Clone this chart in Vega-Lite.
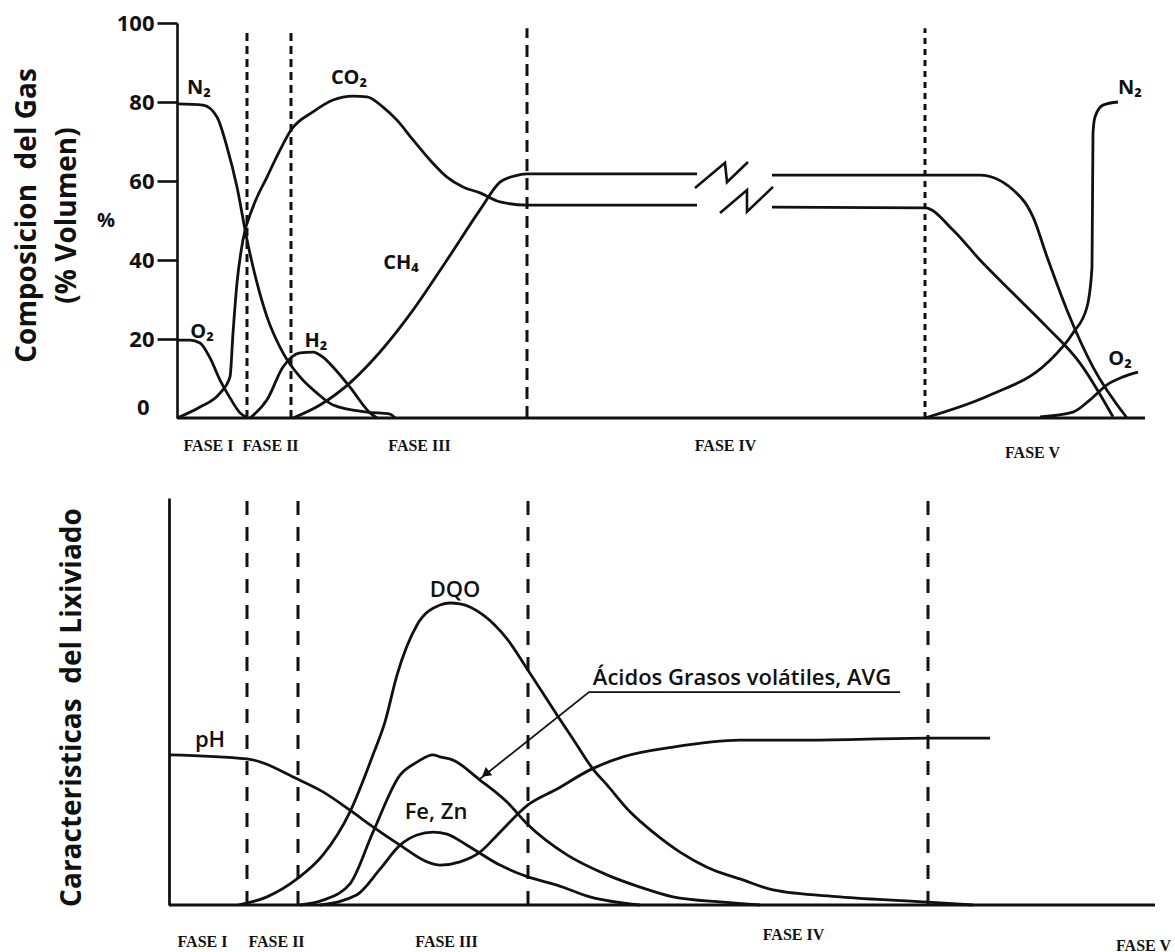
{
  "$schema": "https://vega.github.io/schema/vega-lite/v6.json",
  "background": "white",
  "padding": {"left": 13, "top": 12, "right": 0, "bottom": 0},
  "spacing": 32,
  "config": {"view": {"stroke": null}, "axis": {"grid": false}},
  "datasets": {
    "gas": [
      {"s": "N2a", "t": 8, "v": 79.5}, {"s": "N2a", "t": 34, "v": 79.2}, {"s": "N2a", "t": 48, "v": 76.2}, {"s": "N2a", "t": 58, "v": 68.6}, {"s": "N2a", "t": 68, "v": 58.5}, {"s": "N2a", "t": 78, "v": 45.1}, {"s": "N2a", "t": 88, "v": 34.2}, {"s": "N2a", "t": 98, "v": 25.6}, {"s": "N2a", "t": 114, "v": 16.5}, {"s": "N2a", "t": 131, "v": 10.4}, {"s": "N2a", "t": 148, "v": 6.3}, {"s": "N2a", "t": 164, "v": 3.3}, {"s": "N2a", "t": 198, "v": 1.5}, {"s": "N2a", "t": 221, "v": 1.0}, {"s": "N2a", "t": 226, "v": 0},
      {"s": "O2a", "t": 8, "v": 19.7}, {"s": "O2a", "t": 21, "v": 19.7}, {"s": "O2a", "t": 31, "v": 19.0}, {"s": "O2a", "t": 41, "v": 15.2}, {"s": "O2a", "t": 51, "v": 9.6}, {"s": "O2a", "t": 61, "v": 5.1}, {"s": "O2a", "t": 71, "v": 1.3}, {"s": "O2a", "t": 79, "v": 0},
      {"s": "CO2a", "t": 8, "v": 0}, {"s": "CO2a", "t": 31, "v": 2.8}, {"s": "CO2a", "t": 51, "v": 6.3}, {"s": "CO2a", "t": 61, "v": 10.4}, {"s": "CO2a", "t": 64, "v": 21.5}, {"s": "CO2a", "t": 68, "v": 34.2}, {"s": "CO2a", "t": 74, "v": 45.1}, {"s": "CO2a", "t": 84, "v": 53.4}, {"s": "CO2a", "t": 98, "v": 61.0}, {"s": "CO2a", "t": 111, "v": 67.8}, {"s": "CO2a", "t": 122, "v": 72.9}, {"s": "CO2a", "t": 144, "v": 77.5}, {"s": "CO2a", "t": 164, "v": 80.5}, {"s": "CO2a", "t": 184, "v": 81.5}, {"s": "CO2a", "t": 198, "v": 81.3}, {"s": "CO2a", "t": 214, "v": 78.7}, {"s": "CO2a", "t": 228, "v": 75.4}, {"s": "CO2a", "t": 244, "v": 70.4}, {"s": "CO2a", "t": 261, "v": 65.3}, {"s": "CO2a", "t": 278, "v": 61.0}, {"s": "CO2a", "t": 294, "v": 58.5}, {"s": "CO2a", "t": 311, "v": 57.0}, {"s": "CO2a", "t": 331, "v": 54.7}, {"s": "CO2a", "t": 358, "v": 53.9}, {"s": "CO2a", "t": 528, "v": 53.9},
      {"s": "CO2b", "t": 603, "v": 53.4}, {"s": "CO2b", "t": 756, "v": 53.2}, {"s": "CO2b", "t": 784, "v": 47.6}, {"s": "CO2b", "t": 811, "v": 40.0}, {"s": "CO2b", "t": 844, "v": 31.6}, {"s": "CO2b", "t": 878, "v": 23.0}, {"s": "CO2b", "t": 911, "v": 13.9}, {"s": "CO2b", "t": 944, "v": 0.3},
      {"s": "CH4a", "t": 124, "v": 0}, {"s": "CH4a", "t": 151, "v": 3.3}, {"s": "CH4a", "t": 181, "v": 8.9}, {"s": "CH4a", "t": 211, "v": 16.7}, {"s": "CH4a", "t": 244, "v": 27.3}, {"s": "CH4a", "t": 278, "v": 40.0}, {"s": "CH4a", "t": 311, "v": 52.7}, {"s": "CH4a", "t": 331, "v": 59.7}, {"s": "CH4a", "t": 346, "v": 61.3}, {"s": "CH4a", "t": 358, "v": 61.8}, {"s": "CH4a", "t": 528, "v": 61.8},
      {"s": "CH4b", "t": 603, "v": 61.5}, {"s": "CH4b", "t": 811, "v": 61.5}, {"s": "CH4b", "t": 854, "v": 55.2}, {"s": "CH4b", "t": 864, "v": 50.9}, {"s": "CH4b", "t": 878, "v": 40.8}, {"s": "CH4b", "t": 898, "v": 27.3}, {"s": "CH4b", "t": 924, "v": 12.9}, {"s": "CH4b", "t": 958, "v": 0},
      {"s": "N2b", "t": 756, "v": 0}, {"s": "N2b", "t": 821, "v": 5.8}, {"s": "N2b", "t": 878, "v": 13.9}, {"s": "N2b", "t": 904, "v": 21.5}, {"s": "N2b", "t": 918, "v": 28.1}, {"s": "N2b", "t": 923, "v": 38.2}, {"s": "N2b", "t": 924, "v": 72.2}, {"s": "N2b", "t": 926, "v": 76.2}, {"s": "N2b", "t": 934, "v": 79.2}, {"s": "N2b", "t": 949, "v": 80.0},
      {"s": "O2b", "t": 871, "v": 0.3}, {"s": "O2b", "t": 904, "v": 1.5}, {"s": "O2b", "t": 921, "v": 4.6}, {"s": "O2b", "t": 938, "v": 8.4}, {"s": "O2b", "t": 954, "v": 10.4}, {"s": "O2b", "t": 969, "v": 11.6},
      {"s": "H2", "t": 81, "v": 0}, {"s": "H2", "t": 98, "v": 4.6}, {"s": "H2", "t": 114, "v": 12.9}, {"s": "H2", "t": 131, "v": 16.5}, {"s": "H2", "t": 144, "v": 16.7}, {"s": "H2", "t": 154, "v": 15.4}, {"s": "H2", "t": 164, "v": 12.9}, {"s": "H2", "t": 181, "v": 7.8}, {"s": "H2", "t": 201, "v": 1.3}, {"s": "H2", "t": 208, "v": 0}
    ],
    "gasBreak": [
      {"s": "z1", "i": 1, "t": 526, "v": 58.2}, {"s": "z1", "i": 2, "t": 556, "v": 64.6}, {"s": "z1", "i": 3, "t": 558, "v": 59.7}, {"s": "z1", "i": 4, "t": 579, "v": 64.8},
      {"s": "z2", "i": 1, "t": 551, "v": 51.9}, {"s": "z2", "i": 2, "t": 578, "v": 57.7}, {"s": "z2", "i": 3, "t": 578, "v": 52.2}, {"s": "z2", "i": 4, "t": 604, "v": 58.5}
    ],
    "gasLabels": [
      {"label": "N₂", "t": 30, "v": 83.5}, {"label": "CO₂", "t": 180, "v": 86.1}, {"label": "O₂", "t": 33, "v": 21.8}, {"label": "H₂", "t": 147, "v": 19.5}, {"label": "CH₄", "t": 232, "v": 39.2}, {"label": "N₂", "t": 961, "v": 83.5}, {"label": "O₂", "t": 951, "v": 14.9}
    ],
    "lix": [
      {"s": "pH", "t": 0, "v": 36.9}, {"s": "pH", "t": 78, "v": 35.9}, {"s": "pH", "t": 128, "v": 31.0}, {"s": "pH", "t": 154, "v": 27.8}, {"s": "pH", "t": 181, "v": 23.3}, {"s": "pH", "t": 204, "v": 19.2}, {"s": "pH", "t": 231, "v": 14.7}, {"s": "pH", "t": 258, "v": 10.6}, {"s": "pH", "t": 271, "v": 9.8}, {"s": "pH", "t": 291, "v": 10.6}, {"s": "pH", "t": 311, "v": 13.0}, {"s": "pH", "t": 331, "v": 17.9}, {"s": "pH", "t": 359, "v": 24.6}, {"s": "pH", "t": 388, "v": 28.5}, {"s": "pH", "t": 421, "v": 33.2}, {"s": "pH", "t": 454, "v": 36.4}, {"s": "pH", "t": 504, "v": 38.8}, {"s": "pH", "t": 571, "v": 40.5}, {"s": "pH", "t": 638, "v": 40.5}, {"s": "pH", "t": 759, "v": 41.0}, {"s": "pH", "t": 821, "v": 41.0},
      {"s": "DQO", "t": 69, "v": 0}, {"s": "DQO", "t": 98, "v": 2.0}, {"s": "DQO", "t": 128, "v": 6.4}, {"s": "DQO", "t": 154, "v": 12.3}, {"s": "DQO", "t": 181, "v": 22.9}, {"s": "DQO", "t": 204, "v": 36.9}, {"s": "DQO", "t": 216, "v": 45.0}, {"s": "DQO", "t": 228, "v": 56.5}, {"s": "DQO", "t": 248, "v": 68.8}, {"s": "DQO", "t": 271, "v": 73.7}, {"s": "DQO", "t": 281, "v": 74.2}, {"s": "DQO", "t": 291, "v": 74.0}, {"s": "DQO", "t": 314, "v": 71.3}, {"s": "DQO", "t": 338, "v": 65.4}, {"s": "DQO", "t": 359, "v": 57.7}, {"s": "DQO", "t": 388, "v": 46.7}, {"s": "DQO", "t": 404, "v": 40.8}, {"s": "DQO", "t": 424, "v": 33.4}, {"s": "DQO", "t": 438, "v": 29.5}, {"s": "DQO", "t": 461, "v": 22.9}, {"s": "DQO", "t": 484, "v": 17.9}, {"s": "DQO", "t": 511, "v": 13.0}, {"s": "DQO", "t": 538, "v": 9.3}, {"s": "DQO", "t": 558, "v": 7.4}, {"s": "DQO", "t": 571, "v": 6.4}, {"s": "DQO", "t": 604, "v": 3.7}, {"s": "DQO", "t": 671, "v": 2.0}, {"s": "DQO", "t": 759, "v": 0.7}, {"s": "DQO", "t": 804, "v": 0},
      {"s": "AVG", "t": 131, "v": 0}, {"s": "AVG", "t": 154, "v": 1.2}, {"s": "AVG", "t": 181, "v": 5.2}, {"s": "AVG", "t": 204, "v": 17.9}, {"s": "AVG", "t": 231, "v": 31.9}, {"s": "AVG", "t": 248, "v": 35.1}, {"s": "AVG", "t": 264, "v": 36.9}, {"s": "AVG", "t": 271, "v": 36.4}, {"s": "AVG", "t": 284, "v": 35.6}, {"s": "AVG", "t": 311, "v": 30.7}, {"s": "AVG", "t": 338, "v": 25.3}, {"s": "AVG", "t": 359, "v": 19.7}, {"s": "AVG", "t": 398, "v": 12.3}, {"s": "AVG", "t": 438, "v": 7.4}, {"s": "AVG", "t": 471, "v": 4.4}, {"s": "AVG", "t": 504, "v": 2.0}, {"s": "AVG", "t": 554, "v": 0.7}, {"s": "AVG", "t": 591, "v": 0},
      {"s": "FeZn", "t": 151, "v": 0}, {"s": "FeZn", "t": 188, "v": 2.5}, {"s": "FeZn", "t": 211, "v": 8.8}, {"s": "FeZn", "t": 231, "v": 14.7}, {"s": "FeZn", "t": 248, "v": 17.2}, {"s": "FeZn", "t": 264, "v": 17.9}, {"s": "FeZn", "t": 278, "v": 17.4}, {"s": "FeZn", "t": 298, "v": 14.7}, {"s": "FeZn", "t": 331, "v": 9.8}, {"s": "FeZn", "t": 359, "v": 6.9}, {"s": "FeZn", "t": 388, "v": 4.9}, {"s": "FeZn", "t": 421, "v": 2.0}, {"s": "FeZn", "t": 471, "v": 0}
    ],
    "lixLabels": [
      {"label": "pH", "t": 41, "v": 40.5}, {"label": "DQO", "t": 286, "v": 77.4}, {"label": "Fe, Zn", "t": 267, "v": 22.9}, {"label": "Ácidos Grasos volátiles, AVG", "t": 573, "v": 55.8}
    ],
    "arrow": [
      {"i": 1, "t": 731, "v": 52.3}, {"i": 2, "t": 420, "v": 52.3}, {"i": 3, "t": 311, "v": 31.0}
    ]
  },
  "vconcat": [
    {
      "width": 990,
      "height": 395,
      "encoding": {
        "x": {"field": "t", "type": "quantitative", "scale": {"domain": [0, 990], "nice": false, "zero": false},
          "axis": {"values": [39, 101, 250, 556, 863],
            "labelExpr": "datum.value == 39 ? 'FASE I' : datum.value == 101 ? 'FASE II' : datum.value == 250 ? 'FASE III' : datum.value == 556 ? 'FASE IV' : 'FASE V'",
            "ticks": false, "tickSize": 0, "domain": false, "grid": false,
            "labelFont": "Liberation Serif", "labelFontWeight": "bold", "labelFontSize": 16, "labelColor": "#111",
            "labelBaseline": "middle", "labelFlush": false, "labelOverlap": false,
            "labelPadding": {"condition": {"test": "datum.value > 800", "value": 34}, "value": 27},
            "title": null}},
        "y": {"field": "v", "type": "quantitative", "scale": {"domain": [0, 100], "nice": false, "zero": false},
          "axis": {"values": [0, 20, 40, 60, 80, 100], "offset": -8,
            "domainColor": "#111", "domainWidth": 2.6,
            "tickColor": "#111", "tickWidth": 2.6, "tickSize": 20,
            "tickOpacity": {"condition": {"test": "datum.value == 0", "value": 0}, "value": 1},
            "labelFont": "Open Sans", "labelFontSize": 22, "labelFontWeight": "bold", "labelColor": "#111",
            "labelBaseline": "middle",
            "labelPadding": {"condition": {"test": "datum.value == 0", "value": 8}, "value": 3},
            "labelOffset": {"condition": {"test": "datum.value == 0", "value": -11}, "value": 0},
            "title": ["Composicion\u00a0 del Gas", "(% Volumen)"],
            "titleFont": "Open Sans", "titleFontSize": 28, "titleFontWeight": "bold", "titleColor": "#111",
            "titleAngle": 270, "titleAlign": "center", "titleBaseline": "middle",
            "titleX": -150, "titleY": 192, "titleLineHeight": 40}}
      },
      "layer": [
        {"data": {"name": "gas"}, "mark": {"type": "line", "interpolate": "monotone", "color": "#111", "strokeWidth": 2.8}, "encoding": {"detail": {"field": "s"}}},
        {"data": {"name": "gasBreak"}, "mark": {"type": "line", "color": "#111", "strokeWidth": 2.6}, "encoding": {"detail": {"field": "s"}, "order": {"field": "i"}}},
        {"data": {"values": [{"t": 8, "t2": 976, "v": 0, "v2": 0}]}, "mark": {"type": "rule", "color": "#111", "strokeWidth": 2.8}, "encoding": {"x2": {"field": "t2"}, "y2": {"field": "v2"}}},
        {"data": {"values": [{"t": 78, "v": 0, "v2": 98.7}, {"t": 122, "v": 0, "v2": 98.7}]}, "mark": {"type": "rule", "color": "#111", "strokeWidth": 3, "strokeDash": [8, 5]}, "encoding": {"y2": {"field": "v2"}}},
        {"data": {"values": [{"t": 358, "v": 0, "v2": 98.7}]}, "mark": {"type": "rule", "color": "#111", "strokeWidth": 3, "strokeDash": [12, 7]}, "encoding": {"y2": {"field": "v2"}}},
        {"data": {"values": [{"t": 756, "v": 0, "v2": 98.7}]}, "mark": {"type": "rule", "color": "#111", "strokeWidth": 3, "strokeDash": [6, 5]}, "encoding": {"y2": {"field": "v2"}}},
        {"data": {"name": "gasLabels"}, "mark": {"type": "text", "font": "Open Sans", "fontSize": 20, "fontWeight": "bold", "color": "#111", "align": "center", "baseline": "middle"}, "encoding": {"text": {"field": "label"}}},
        {"data": {"values": [{"label": "%", "t": -63, "v": 49.9}]}, "mark": {"type": "text", "font": "Open Sans", "fontSize": 20, "fontWeight": "bold", "color": "#111", "align": "center", "baseline": "middle"}, "encoding": {"text": {"field": "label"}}}
      ]
    },
    {
      "width": 990,
      "height": 407,
      "encoding": {
        "x": {"field": "t", "type": "quantitative", "scale": {"domain": [0, 990], "nice": false, "zero": false},
          "axis": {"values": [33, 107, 277, 624, 974],
            "labelExpr": "datum.value == 33 ? 'FASE I' : datum.value == 107 ? 'FASE II' : datum.value == 277 ? 'FASE III' : datum.value == 624 ? 'FASE IV' : 'FASE V'",
            "ticks": false, "tickSize": 0, "domain": false, "grid": false,
            "labelFont": "Liberation Serif", "labelFontWeight": "bold", "labelFontSize": 16, "labelColor": "#111",
            "labelBaseline": "middle", "labelFlush": false, "labelOverlap": false,
            "labelPadding": {"condition": [{"test": "datum.value == 624", "value": 29}, {"test": "datum.value == 974", "value": 40}], "value": 36},
            "title": null}},
        "y": {"field": "v", "type": "quantitative", "scale": {"domain": [0, 100], "nice": false, "zero": false},
          "axis": {"ticks": false, "labels": false, "grid": false,
            "domainColor": "#111", "domainWidth": 2.8,
            "title": "Caracteristicas\u00a0 del Lixiviado",
            "titleFont": "Open Sans", "titleFontSize": 28, "titleFontWeight": "bold", "titleColor": "#111",
            "titleAngle": 270, "titleAlign": "center", "titleBaseline": "middle",
            "titleX": -97, "titleY": 209}}
      },
      "layer": [
        {"data": {"name": "lix"}, "mark": {"type": "line", "interpolate": "monotone", "color": "#111", "strokeWidth": 2.8}, "encoding": {"detail": {"field": "s"}}},
        {"data": {"values": [{"t": 0, "t2": 986, "v": 0, "v2": 0}]}, "mark": {"type": "rule", "color": "#111", "strokeWidth": 2.8}, "encoding": {"x2": {"field": "t2"}, "y2": {"field": "v2"}}},
        {"data": {"values": [{"t": 78, "v": 0, "v2": 101}, {"t": 129, "v": 0, "v2": 101}, {"t": 359, "v": 0, "v2": 101}, {"t": 759, "v": 0, "v2": 101}]}, "mark": {"type": "rule", "color": "#111", "strokeWidth": 3, "strokeDash": [14, 12]}, "encoding": {"y2": {"field": "v2"}}},
        {"data": {"name": "arrow"}, "mark": {"type": "line", "color": "#111", "strokeWidth": 1.8}, "encoding": {"order": {"field": "i"}}},
        {"data": {"values": [{"t": 316.5, "v": 32.2}]}, "mark": {"type": "point", "shape": "triangle-up", "size": 110, "filled": true, "color": "#111", "opacity": 1, "angle": 231}},
        {"data": {"name": "lixLabels"}, "mark": {"type": "text", "font": "Open Sans", "fontSize": 22, "fontWeight": 600, "color": "#111", "align": "center", "baseline": "middle"}, "encoding": {"text": {"field": "label"}}}
      ]
    }
  ]
}
